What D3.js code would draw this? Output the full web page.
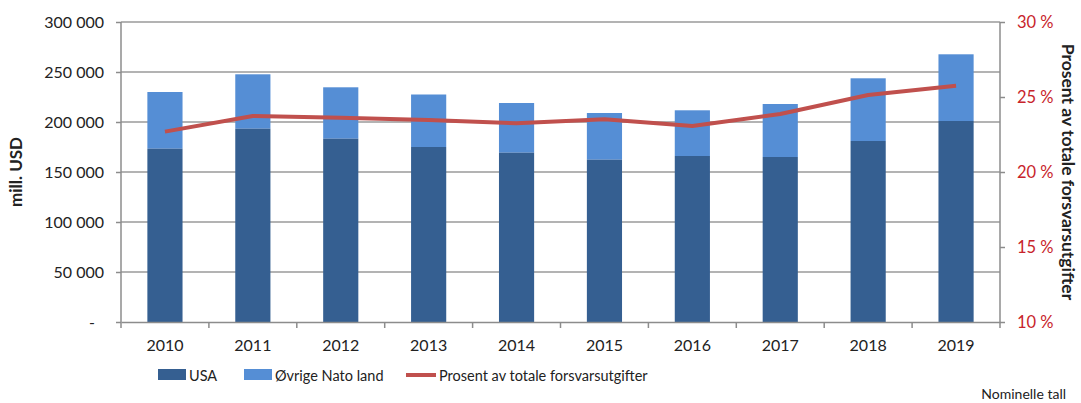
<!DOCTYPE html>
<html>
<head>
<meta charset="utf-8">
<script src="https://cdn.jsdelivr.net/npm/d3@7"></script>
<style>
  body { margin: 0; background: #fff; }
  text { font-family: Lato, "Open Sans", sans-serif; }
</style>
</head>
<body>
<div id="chart"></div>
<script>
var years = [2010, 2011, 2012, 2013, 2014, 2015, 2016, 2017, 2018, 2019]
var usa = [173300, 193300, 183300, 175000, 169300, 162300, 166000, 165000, 181000, 201000]
var total = [230000, 247700, 234700, 227500, 219000, 209000, 211700, 218000, 243700, 267700]
var pct = [22.69, 23.73, 23.62, 23.47, 23.25, 23.51, 23.07, 23.87, 25.13, 25.75]
var leftTicks = [0, 50000, 100000, 150000, 200000, 250000, 300000]
var rightTicks = [10, 15, 20, 25, 30]

var W = 1081, H = 403
var m = {left: 121, right: 81, top: 22, bottom: 81}
var w = W - m.left - m.right, h = H - m.top - m.bottom

var svg = d3.select('#chart').append('svg').attr('width', W).attr('height', H)
var g = svg.append('g').attr('transform', 'translate(' + m.left + ',' + m.top + ')')

var x = d3.scaleBand().domain(years).range([0, w]).paddingInner(0.6).paddingOuter(0.3)
var xb = d3.scaleBand().domain(years).range([0, w])
var y = d3.scaleLinear().domain([0, 300000]).range([h, 0])
var y2 = d3.scaleLinear().domain([10, 30]).range([h, 0])

var fmt = function(d){ return d == 0 ? '-' : d3.format(',')(d).replace(/,/g, ' ') }

// gridlines
g.selectAll('line.grid').data(leftTicks.slice(1)).enter().append('line')
  .attr('x1', 0).attr('x2', w)
  .attr('y1', d => y(d)).attr('y2', d => y(d))
  .attr('stroke', '#9a9a9a').attr('stroke-width', 1.5)

// bars
var usaCol = '#355f91', restCol = '#558ed5'
g.selectAll('rect.rest').data(years).enter().append('rect')
  .attr('x', d => x(d)).attr('width', x.bandwidth())
  .attr('y', (d, i) => y(total[i])).attr('height', (d, i) => y(usa[i]) - y(total[i]))
  .attr('fill', restCol)
g.selectAll('rect.usa').data(years).enter().append('rect')
  .attr('x', d => x(d)).attr('width', x.bandwidth())
  .attr('y', (d, i) => y(usa[i])).attr('height', (d, i) => h - y(usa[i]))
  .attr('fill', usaCol)

// line
var line = d3.line().x((d, i) => x(years[i]) + x.bandwidth() / 2).y(d => y2(d))
g.append('path').attr('d', line(pct)).attr('fill', 'none')
  .attr('stroke', '#c0504d').attr('stroke-width', 4).attr('stroke-linejoin', 'round')

// left axis
var yAxis = g.append('g').call(d3.axisLeft(y).tickValues(leftTicks).tickFormat(fmt).tickSize(5).tickPadding(12))
yAxis.selectAll('line, path').attr('stroke', '#8c8c8c').attr('stroke-width', 1.5)
yAxis.select('.domain').attr('d', 'M0,' + h + 'V0')
yAxis.selectAll('text').attr('font-size', 16).attr('fill', '#222')
  .attr('dx', d => d == 0 ? -9 : 0)

// right axis
var y2Axis = g.append('g').attr('transform', 'translate(' + w + ',0)')
  .call(d3.axisRight(y2).tickValues(rightTicks).tickFormat(d => d + ' %').tickSize(5).tickPadding(12))
y2Axis.selectAll('line, path').attr('stroke', '#8c8c8c').attr('stroke-width', 1.5)
y2Axis.select('.domain').attr('d', 'M0,' + h + 'V0')
y2Axis.selectAll('text').attr('font-size', 16.5).attr('fill', '#c8242b')

// x axis
var xAxis = g.append('g').attr('transform', 'translate(0,' + h + ')')
  .call(d3.axisBottom(xb).tickSize(0).tickPadding(18))
xAxis.select('.domain').attr('stroke', '#8c8c8c').attr('stroke-width', 1.5)
xAxis.selectAll('text').attr('font-size', 16).attr('fill', '#222')
xAxis.selectAll('line.sep').data(d3.range(years.length + 1)).enter().append('line')
  .attr('class', 'sep')
  .attr('x1', d => d * xb.step()).attr('x2', d => d * xb.step())
  .attr('y1', 0).attr('y2', 6).attr('stroke', '#8c8c8c').attr('stroke-width', 1.5)

// axis titles
svg.append('text').attr('transform', 'translate(22,' + 172 + ') rotate(-90)')
  .attr('text-anchor', 'middle').attr('font-size', 17).attr('font-weight', 'bold').attr('fill', '#222')
  .text('mill. USD')
svg.append('text').attr('transform', 'translate(1062,' + 172 + ') rotate(90)')
  .attr('text-anchor', 'middle').attr('font-size', 17.5).attr('font-weight', 'bold').attr('fill', '#222')
  .text('Prosent av totale forsvarsutgifter')

// legend
var leg = svg.append('g').attr('transform', 'translate(0,375)')
leg.append('rect').attr('x', 158).attr('y', -6).attr('width', 28).attr('height', 11).attr('fill', usaCol)
leg.append('text').attr('x', 189).attr('y', 5.5).attr('font-size', 14.5).attr('fill', '#222').text('USA')
leg.append('rect').attr('x', 244).attr('y', -6).attr('width', 28).attr('height', 11).attr('fill', restCol)
leg.append('text').attr('x', 275).attr('y', 5.5).attr('font-size', 14.5).attr('fill', '#222').text('Øvrige Nato land')
leg.append('line').attr('x1', 406).attr('x2', 436).attr('y1', 0).attr('y2', 0)
  .attr('stroke', '#c0504d').attr('stroke-width', 4)
leg.append('text').attr('x', 439).attr('y', 5.5).attr('font-size', 14.5).attr('fill', '#222').text('Prosent av totale forsvarsutgifter')

svg.append('text').attr('x', 1066).attr('y', 399).attr('text-anchor', 'end')
  .attr('font-size', 14).attr('fill', '#222').text('Nominelle tall')
</script>
</body>
</html>
